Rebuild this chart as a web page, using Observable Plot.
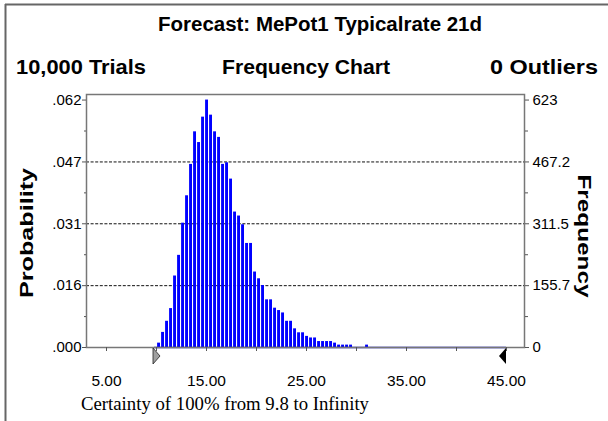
<!DOCTYPE html>
<html><head><meta charset="utf-8">
<script src="https://cdn.jsdelivr.net/npm/d3@7"></script>
<script src="https://cdn.jsdelivr.net/npm/@observablehq/plot@0.6"></script>
<style>
html,body{margin:0;padding:0;background:#fff;}
#chart svg{display:block;}
</style>
</head><body><div id="chart"></div>
<script>
// ---- data ----
const chartTitle = "Forecast: MePot1 Typicalrate 21d";
const trialsText = "10,000 Trials";
const chartKind = "Frequency Chart";
const outliersText = "0 Outliers";
const caption = "Certainty of 100% from 9.8 to Infinity";
const trials = 10000;

const binWidth = 0.4;
const binStarts = [10.0,10.4,10.8,11.2,11.6,12.0,12.4,12.8,13.2,13.6,14.0,14.4,14.8,15.2,15.6,16.0,16.4,16.8,17.2,17.6,
  18.0,18.4,18.8,19.2,19.6,20.0,20.4,20.8,21.2,21.6,22.0,22.4,22.8,23.2,23.6,24.0,24.4,24.8,25.2,25.6,
  26.0,26.4,26.8,27.2,27.6,28.0,28.4,28.8,29.2,29.6,30.0,30.4,30.8];
const counts = [11,38,66,98,180,232,313,382,461,543,516,580,623,585,543,529,461,465,424,341,
  331,309,262,262,190,173,156,120,120,99,93,87,66,66,47,37,37,28,24,24,
  15,15,15,15,11,6,6,6,6,0,0,0,6];

const yTicks = [0, 155.7, 311.5, 467.2, 623];
const yLeftLabels = [".000", ".016", ".031", ".047", ".062"];
const yRightLabels = ["0", "155.7", "311.5", "467.2", "623"];
const xTicks = [5,10,15,20,25,30,35,40,45];
const xLabelTicks = [5,15,25,35,45];
const displayMin = 5;
const certaintyLower = 9.8;
const certaintyUpper = 45;

// ---- build ----
const bins = binStarts.map((s, i) => ({lo: s, hi: s + binWidth, n: counts[i]}));
const yMinor = yTicks.slice(1).map((t, i) => (t + yTicks[i]) / 2);
const leftFmt = d => yLeftLabels[yTicks.indexOf(d)];
const rightFmt = d => yRightLabels[yTicks.indexOf(d)];

const plot = Plot.plot({
  width: 608, height: 421,
  marginLeft: 86, marginRight: 84, marginTop: 94, marginBottom: 74,
  style: {fontFamily: "'Liberation Sans', Arial, sans-serif", background: "#fff", color: "#000"},
  x: {domain: [3, 46.8]},
  y: {domain: [0, 637]},
  marks: [
    Plot.ruleY(yTicks.slice(1, 4), {stroke: "#111", strokeWidth: 1, strokeDasharray: "3,1.6"}),
    Plot.rectY(bins, {x1: "lo", x2: "hi", y: "n", fill: "#0000ff", insetLeft: 1.1, insetRight: 0}),
    Plot.ruleY([0], {x1: displayMin, x2: certaintyLower, stroke: "#b03020", strokeWidth: 1.2}),
    Plot.ruleY([0], {x1: certaintyLower, x2: certaintyUpper, stroke: "#0000c0", strokeWidth: 1.5}),
    Plot.frame({stroke: "#777", strokeWidth: 1.5}),
    Plot.axisY(yTicks, {anchor: "left", tickSize: 4, tickPadding: 1, tickFormat: leftFmt, fontSize: 15, label: null, stroke: "#555"}),
    Plot.axisY(yMinor, {anchor: "left", tickSize: 2, tickFormat: () => "", label: null, stroke: "#555"}),
    Plot.axisY(yTicks, {anchor: "right", tickSize: 4, tickPadding: 4, tickFormat: rightFmt, fontSize: 15, label: null, stroke: "#555"}),
    Plot.axisY(yMinor, {anchor: "right", tickSize: 3, tickFormat: () => "", label: null, stroke: "#555"}),
    Plot.axisX(xTicks, {anchor: "bottom", tickSize: 4, tickFormat: () => "", label: null, stroke: "#555"}),
    Plot.axisX(xLabelTicks, {anchor: "bottom", tickSize: 0, tickPadding: 27, tickFormat: d => d.toFixed(2), fontSize: 15.5, label: null})
  ]
});

const svg = d3.select(plot);
const xs = plot.scale("x");
const ys = plot.scale("y");

// outer border (top and left)
svg.append("line").attr("x1", 5).attr("x2", 608).attr("y1", 4.5).attr("y2", 4.5).attr("stroke", "#666").attr("stroke-width", 2);
svg.append("line").attr("x1", 5.5).attr("x2", 5.5).attr("y1", 4).attr("y2", 421).attr("stroke", "#666").attr("stroke-width", 2);

// certainty grabbers
const y0 = ys.apply(0);
const xl = xs.apply(certaintyLower), xu = xs.apply(certaintyUpper);
svg.append("path").attr("d", `M${xl - 1},${y0 + 1}L${xl + 6},${y0 + 9}L${xl - 1},${y0 + 17}Z`)
  .attr("fill", "#a0a0a0").attr("stroke", "#222").attr("stroke-width", 0.8);
svg.append("path").attr("d", `M${xu},${y0 + 1}L${xu - 7},${y0 + 9}L${xu},${y0 + 17}Z`)
  .attr("fill", "#000");

// texts
const sans = "'Liberation Sans', Arial, sans-serif";
function addText(t, x, y, opts) {
  const el = svg.append("text").attr("x", x).attr("y", y).text(t)
    .attr("font-family", opts.family || sans)
    .attr("font-size", opts.size)
    .attr("font-weight", opts.weight || "normal")
    .attr("text-anchor", opts.anchor || "start")
    .attr("fill", "#000");
  if (opts.len) el.attr("textLength", opts.len).attr("lengthAdjust", "spacingAndGlyphs");
  return el;
}
addText(chartTitle, 158, 31, {size: 20, weight: "bold", len: 324});
addText(trialsText, 16, 74, {size: 21, weight: "bold", len: 130});
addText(chartKind, 222, 74, {size: 21, weight: "bold", len: 168});
addText(outliersText, 490, 74, {size: 21, weight: "bold", len: 108});
addText(caption, 81, 410, {size: 19, family: "'Liberation Serif', 'Times New Roman', serif", len: 288});
svg.append("text").text("Probability")
  .attr("transform", "translate(33,233) rotate(-90)")
  .attr("text-anchor", "middle").attr("font-family", sans).attr("font-size", 19).attr("font-weight", "bold")
  .attr("textLength", 130).attr("lengthAdjust", "spacingAndGlyphs");
svg.append("text").text("Frequency")
  .attr("transform", "translate(578,236) rotate(90)")
  .attr("text-anchor", "middle").attr("font-family", sans).attr("font-size", 19).attr("font-weight", "bold")
  .attr("textLength", 123).attr("lengthAdjust", "spacingAndGlyphs");

document.getElementById("chart").appendChild(plot);
</script>
</body></html>
